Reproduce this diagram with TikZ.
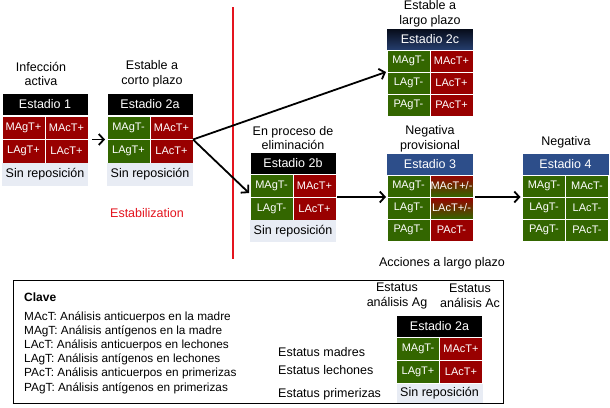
\documentclass[tikz,border=0pt]{standalone}
\usepackage{fontspec}
\setmainfont{Liberation Sans}
\usetikzlibrary{arrows.meta}
\definecolor{dred}{RGB}{153,0,0}
\definecolor{dgreen}{RGB}{51,102,0}
\definecolor{sinbg}{RGB}{232,236,244}
\definecolor{hblue}{RGB}{45,78,138}
\definecolor{navytop}{RGB}{5,10,22}
\definecolor{navybot}{RGB}{38,62,110}
\definecolor{redline}{RGB}{228,20,30}
\begin{document}
\begin{tikzpicture}[x=1pt,y=-1pt,
  lbl/.style={inner sep=0pt, align=center, font=\fontsize{12.5}{14.5}\selectfont},
  cell/.style={inner sep=0pt, outer sep=0pt, draw=white, line width=1pt, text=white,
    minimum width=43pt, font=\fontsize{11}{12}\selectfont},
  cred/.style={cell, fill=dred},
  cgreen/.style={cell, fill=dgreen},
  cmix/.style={cell, top color=dred, bottom color=dgreen},
  hdr/.style={inner sep=0pt, outer sep=0pt, draw=white, line width=1pt, text=white,
    fill=black, minimum width=86pt, minimum height=22pt, font=\fontsize{12.5}{14}\selectfont},
  sinrep/.style={inner sep=0pt, outer sep=0pt, fill=sinbg, minimum width=86pt,
    font=\fontsize{12.5}{14}\selectfont},
  arr/.style={line width=1.8pt, -{Straight Barb[length=5pt,width=11pt]}},
  keytxt/.style={inner sep=0pt, align=left, font=\fontsize{11.8}{14.2}\selectfont}
]
\fill[white] (0,0) rectangle (610,407);
\useasboundingbox (0,0) rectangle (610,407);

% Estadio 1
\node[lbl] (t1) at (41,74) {Infección\\activa};
\node[hdr] (e1h) at (45,104) {Estadio 1};
\node[cred, minimum height=23.5pt] (e1ma) at (23.5,127.75) {MAgT+};
\node[cred, minimum height=23.5pt] (e1mc) at (66.5,127.75) {MAcT+};
\node[cred, minimum height=23.5pt] (e1la) at (23.5,151.25) {LAgT+};
\node[cred, minimum height=23.5pt] (e1lc) at (66.5,151.25) {LAcT+};
\node[sinrep, minimum height=23pt] (e1s) at (45,174.5) {Sin reposición};

% Estadio 2a
\node[lbl] (t2) at (152,74) {Estable a\\corto plazo};
\node[hdr] (e2h) at (150,104) {Estadio 2a};
\node[cgreen, minimum height=23.5pt] (e2ma) at (128.5,127.75) {MAgT-};
\node[cred, minimum height=23.5pt] (e2mc) at (171.5,127.75) {MAcT+};
\node[cgreen, minimum height=23.5pt] (e2la) at (128.5,151.25) {LAgT+};
\node[cred, minimum height=23.5pt] (e2lc) at (171.5,151.25) {LAcT+};
\node[sinrep, minimum height=23pt] (e2s) at (150,174.5) {Sin reposición};

% Estadio 2b
\node[lbl] (t2b) at (293,138) {En proceso de\\eliminación};
\node[hdr] (e2bh) at (293,163) {Estadio 2b};
\node[cgreen, minimum height=23pt] (e2bma) at (271.5,185.5) {MAgT-};
\node[cred, minimum height=23pt] (e2bmc) at (314.5,185.5) {MAcT+};
\node[cgreen, minimum height=23pt] (e2bla) at (271.5,208.5) {LAgT-};
\node[cred, minimum height=23pt] (e2blc) at (314.5,208.5) {LAcT+};
\node[sinrep, minimum height=22pt] (e2bs) at (293,231) {Sin reposición};

% Estadio 2c
\node[lbl] (t2c) at (430,14) {Estable a\\largo plazo};
\node[hdr, fill=none, top color=navytop, bottom color=navybot, minimum width=87pt] (e2ch) at (430,39) {Estadio 2c};
\node[cgreen, minimum height=22pt] (e2cma) at (408.5,61) {MAgT-};
\node[cred, minimum height=22pt] (e2cmc) at (451.5,61) {MAcT+};
\node[cgreen, minimum height=22pt] (e2cla) at (408.5,83) {LAgT-};
\node[cred, minimum height=22pt] (e2clc) at (451.5,83) {LAcT+};
\node[cgreen, minimum height=22pt] (e2cpa) at (408.5,105) {PAgT-};
\node[cred, minimum height=22pt] (e2cpc) at (451.5,105) {PAcT+};

% Estadio 3
\node[lbl] (t3) at (430,139) {Negativa\\provisional};
\node[hdr, fill=hblue, minimum width=87pt] (e3h) at (430,164) {Estadio 3};
\node[cgreen, minimum height=22pt] (e3ma) at (408.5,186) {MAgT-};
\node[cmix, minimum height=22pt] (e3mc) at (451.5,186) {MAcT+/-};
\node[cgreen, minimum height=22pt] (e3la) at (408.5,208) {LAgT-};
\node[cmix, minimum height=22pt] (e3lc) at (451.5,208) {LAcT+/-};
\node[cgreen, minimum height=22pt] (e3pa) at (408.5,230) {PAgT-};
\node[cred, minimum height=22pt] (e3pc) at (451.5,230) {PAcT-};

% Estadio 4
\node[lbl] (t4) at (566,142) {Negativa};
\node[hdr, fill=hblue, minimum width=87pt] (e4h) at (565.5,164) {Estadio 4};
\node[cgreen, minimum height=22pt] (e4ma) at (544,186) {MAgT-};
\node[cgreen, minimum height=22pt] (e4mc) at (587,186) {MAcT-};
\node[cgreen, minimum height=22pt] (e4la) at (544,208) {LAgT-};
\node[cgreen, minimum height=22pt] (e4lc) at (587,208) {LAcT-};
\node[cgreen, minimum height=22pt] (e4pa) at (544,230) {PAgT-};
\node[cgreen, minimum height=22pt] (e4pc) at (587,230) {PAcT-};

% red line and labels
\coordinate (rtop) at (233,7);
\coordinate (rbot) at (233,259);
\draw[redline, line width=2pt] (rtop) -- (rbot);
\node[lbl, text=redline] (stab) at (147,213) {Estabilization};
\node[lbl] (acc) at (442,263) {Acciones a largo plazo};

% arrows
\draw[arr] ([xshift=4pt]e1mc.south east) -- ([xshift=-2pt]e2ma.south west);
\draw[arr] (e2mc.south east) -- ([xshift=-1pt]e2cma.south west);
\draw[arr] (e2mc.south east) -- ([yshift=4pt,xshift=-1pt]e2bma.south west);
\draw[arr] ([xshift=1pt]e2bmc.south east) -- ([xshift=-1pt]e3ma.south west);
\draw[arr] ([xshift=2pt]e3mc.south east) -- ([xshift=-2pt]e4ma.south west);

% key box
\node[draw=black, line width=1pt, minimum width=490pt, minimum height=123pt, inner sep=0pt] (keybox) at (258,341.5) {};
\node[anchor=west, inner sep=0pt, font=\bfseries\fontsize{12}{14}\selectfont] (clave) at (24,297) {Clave};
\node[keytxt, anchor=west] (keylist) at (24,352.5) {MAcT: Análisis anticuerpos en la madre\\
MAgT: Análisis antígenos en la madre\\
LAcT: Análisis anticuerpos en lechones\\
LAgT: Análisis antígenos en lechones\\
PAcT: Análisis anticuerpos en primerizas\\
PAgT: Análisis antígenos en primerizas};

\node[lbl] (sag) at (397,296) {Estatus\\análisis Ag};
\node[lbl] (sac) at (470,296) {Estatus\\análisis Ac};
\node[lbl, anchor=west] (smad) at (278,352) {Estatus madres};
\node[lbl, anchor=west] (slec) at (278,370) {Estatus lechones};
\node[lbl, anchor=west] (sprim) at (278,394) {Estatus primerizas};

\node[hdr] (lh) at (439.5,326) {Estadio 2a};
\node[cgreen, minimum height=23pt] (lma) at (418,348.5) {MAgT-};
\node[cred, minimum height=23pt] (lmc) at (461,348.5) {MAcT+};
\node[cgreen, minimum height=23pt] (lla) at (418,372) {LAgT+};
\node[cred, minimum height=23pt] (llc) at (461,372) {LAcT+};
\node[sinrep, minimum height=19pt] (ls) at (439.5,393.5) {Sin reposición};
\draw[line width=1pt] (keybox.south west) -- (keybox.south east);
\end{tikzpicture}
\end{document}
